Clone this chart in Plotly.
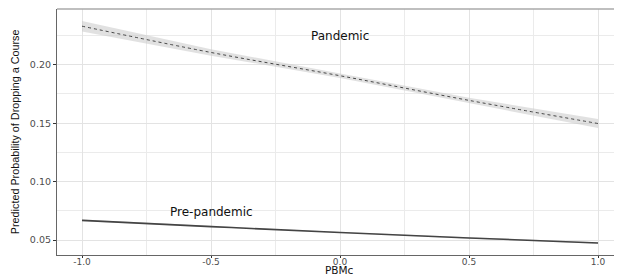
import plotly.graph_objects as go

# Data
pbmc = [-1.0, -0.5, 0.0, 0.5, 1.0]
pandemic_fit = [0.2330, 0.2105, 0.1906, 0.1695, 0.1497]
pandemic_lo = [0.2285, 0.2078, 0.1886, 0.1673, 0.1458]
pandemic_hi = [0.2375, 0.2132, 0.1926, 0.1717, 0.1536]
pre_fit = [0.0668, 0.0615, 0.0564, 0.0518, 0.0475]
pre_lo = [0.0661, 0.0610, 0.0560, 0.0513, 0.0468]
pre_hi = [0.0675, 0.0620, 0.0568, 0.0523, 0.0482]
x_ticks = [-1.0, -0.5, 0.0, 0.5, 1.0]
x_ticklabels = ["-1.0", "-0.5", "0.0", "0.5", "1.0"]
y_ticks = [0.05, 0.10, 0.15, 0.20]
y_ticklabels = ["0.05", "0.10", "0.15", "0.20"]
labels = ["Pandemic", "Pre-pandemic"]
label_x = [0.0, -0.5]
label_y = [0.2247, 0.0742]

fig = go.Figure()

def ribbon(lo, hi, color):
    fig.add_trace(go.Scatter(x=pbmc, y=lo, mode="lines", line=dict(width=0),
                             hoverinfo="skip", showlegend=False))
    fig.add_trace(go.Scatter(x=pbmc, y=hi, mode="lines", line=dict(width=0),
                             fill="tonexty", fillcolor=color, hoverinfo="skip",
                             showlegend=False))

ribbon(pandemic_lo, pandemic_hi, "rgba(200,200,200,0.55)")
fig.add_trace(go.Scatter(x=pbmc, y=pandemic_fit, mode="lines", line_shape="spline",
                         line=dict(color="#333333", width=0.9, dash="3px,3px"),
                         showlegend=False))
ribbon(pre_lo, pre_hi, "rgba(200,200,200,0.55)")
fig.add_trace(go.Scatter(x=pbmc, y=pre_fit, mode="lines", line_shape="spline",
                         line=dict(color="#444444", width=1.6),
                         showlegend=False))

for t, lx, ly in zip(labels, label_x, label_y):
    fig.add_annotation(x=lx, y=ly, text=t, showarrow=False,
                       font=dict(family="DejaVu Sans", size=12, color="#111111"))

# axis titles
fig.add_annotation(xref="paper", yref="paper", x=0.5, y=-0.061, yanchor="middle",
                   text="PBMc", showarrow=False, borderpad=0,
                   font=dict(family="DejaVu Sans", size=10.5, color="#111111"))
fig.add_annotation(xref="paper", yref="paper", x=-0.074, y=0.5, xanchor="center",
                   text="Predicted Probability of Dropping a Course", textangle=-90,
                   showarrow=False, borderpad=0,
                   font=dict(family="Liberation Sans Narrow, Liberation Sans",
                             size=10.8, color="#111111"))

# top border
fig.add_shape(type="line", xref="paper", yref="paper", x0=0, x1=1, y0=1, y1=1,
              line=dict(color="#aaaaaa", width=1.5))

grid = "#e3e3e3"
fig.update_layout(
    width=614, height=268,
    margin=dict(l=49, r=0, t=1, b=21),
    paper_bgcolor="white", plot_bgcolor="white",
    font=dict(family="DejaVu Sans", color="#4d4d4d", size=9),
    xaxis=dict(range=[-1.097, 1.093], tickvals=x_ticks, ticktext=x_ticklabels,
               automargin=False,
               showgrid=True, gridcolor=grid, gridwidth=1,
               minor=dict(dtick=0.25, showgrid=True, gridcolor="#ebebeb", gridwidth=1, tick0=0),
               showline=True, linecolor="#666666", linewidth=1.2,
               ticks="outside", ticklen=2, tickcolor="#333333", tickwidth=1,
               ticklabelstandoff=-4,
               tickfont=dict(size=9, color="#4d4d4d"),
               zeroline=False),
    yaxis=dict(range=[0.0372, 0.2477], tickvals=y_ticks, ticktext=y_ticklabels,
               automargin=False,
               showgrid=True, gridcolor=grid, gridwidth=1,
               minor=dict(dtick=0.025, showgrid=True, gridcolor="#ebebeb", gridwidth=1, tick0=0),
               showline=True, linecolor="#666666", linewidth=1.2,
               ticks="outside", ticklen=3, tickcolor="#333333", tickwidth=1,
               tickfont=dict(size=9.5, color="#4d4d4d"),
               zeroline=False),
)

fig.write_html("out.html")
